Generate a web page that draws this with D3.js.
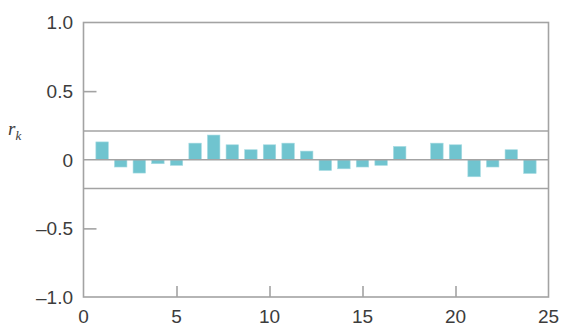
<!DOCTYPE html>
<html>
<head>
<meta charset="utf-8">
<script src="https://cdn.jsdelivr.net/npm/d3@7"></script>
<style>
  html, body { margin: 0; padding: 0; background: #fff; }
  svg { display: block; }
</style>
</head>
<body>
<script>
// Sample autocorrelation function r_k for lags 1..24
const lags = d3.range(1, 25);
const rk = [0.13, -0.053, -0.097, -0.029, -0.041, 0.121, 0.18, 0.109, 0.073, 0.109, 0.121, 0.063,
            -0.078, -0.066, -0.053, -0.041, 0.097, 0.0, 0.121, 0.109, -0.124, -0.053, 0.073, -0.1];
const limit = 0.21;               // approximate 2-sigma band
const xTicks = [0, 5, 10, 15, 20, 25];
const yTicks = [-1, -0.5, 0, 0.5, 1];

const W = 563, H = 326;
const m = { left: 83.5, right: 14.5, top: 22.5, bottom: 29 };

const svg = d3.select("body").append("svg").attr("width", W).attr("height", H);

const x = d3.scaleLinear().domain([0, 25]).range([m.left, W - m.right]);
const y = d3.scaleLinear().domain([-1, 1]).range([H - m.bottom, m.top]);

const axisCol = "#a3a3a3", textCol = "#3c3c3c", barCol = "#70c4cf";
const font = "'Liberation Sans', Arial, sans-serif";

// bars
const bw = 0.67;
svg.append("g").selectAll("rect").data(lags.map((k, i) => ({ k, v: rk[i] }))).join("rect")
  .attr("x", d => x(d.k - bw / 2))
  .attr("width", x(bw) - x(0))
  .attr("y", d => y(Math.max(0, d.v)))
  .attr("height", d => Math.abs(y(d.v) - y(0)))
  .attr("fill", barCol)
  .attr("stroke", "#a6dbe2")
  .attr("stroke-width", 0.6);

// zero line and significance limits
svg.append("g").selectAll("line").data([0, limit, -limit]).join("line")
  .attr("x1", x(0)).attr("x2", x(25))
  .attr("y1", d => y(d)).attr("y2", d => y(d))
  .attr("stroke", axisCol).attr("stroke-width", 1.6);

// frame
svg.append("rect")
  .attr("x", x(0)).attr("y", y(1))
  .attr("width", x(25) - x(0)).attr("height", y(-1) - y(1))
  .attr("fill", "none").attr("stroke", axisCol).attr("stroke-width", 1.6);

// inward ticks
const xAxis = d3.axisTop(x).tickValues(xTicks.filter(t => t > 0 && t < 25)).tickSize(11).tickFormat("");
const gx = svg.append("g").attr("transform", `translate(0,${y(-1)})`).call(xAxis);
gx.select(".domain").remove();
gx.selectAll("line").attr("stroke", axisCol).attr("stroke-width", 1.6);

const yAxis = d3.axisRight(y).tickValues([-0.5, 0.5]).tickSize(13).tickFormat("");
const gy = svg.append("g").attr("transform", `translate(${x(0)},0)`).call(yAxis);
gy.select(".domain").remove();
gy.selectAll("line").attr("stroke", axisCol).attr("stroke-width", 1.6);

// tick labels
const fmtY = d => d === 0 ? "0" : (d < 0 ? "\u2013" : "") + Math.abs(d).toFixed(1);
svg.append("g").selectAll("text").data(yTicks).join("text")
  .attr("x", 73).attr("y", d => y(d)).attr("dy", "0.36em")
  .attr("text-anchor", "end")
  .attr("font-family", font).attr("font-size", 19).attr("fill", textCol)
  .text(fmtY);

svg.append("g").selectAll("text").data(xTicks).join("text")
  .attr("x", d => x(d)).attr("y", 323)
  .attr("text-anchor", "middle")
  .attr("font-family", font).attr("font-size", 19).attr("fill", textCol)
  .text(d => d);

// axis label r_k
const lab = svg.append("text").attr("x", 8).attr("y", 135)
  .attr("font-family", "'Liberation Serif', 'DejaVu Serif', serif")
  .attr("font-style", "italic").attr("fill", textCol);
lab.append("tspan").attr("font-size", 19).text("r");
lab.append("tspan").attr("font-size", 13).attr("dy", 5).text("k");
</script>
</body>
</html>
